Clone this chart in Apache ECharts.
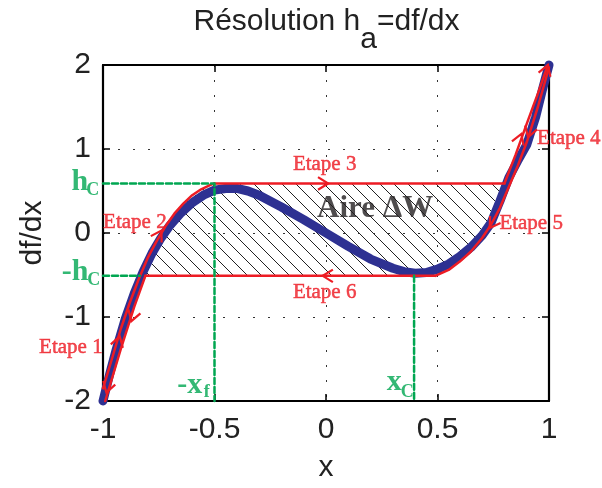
<!DOCTYPE html>
<html><head><meta charset="utf-8">
<script src="https://cdn.jsdelivr.net/npm/echarts@6/dist/echarts.min.js"></script>
<style>html,body{margin:0;padding:0;background:#fff}#c{width:602px;height:488px}</style>
</head><body><div id="c"></div>
<script>
// ---- data ----
const curveX = [-1.00,-0.97,-0.94,-0.90,-0.86,-0.82,-0.78,-0.74,-0.70,-0.65,-0.60,-0.55,-0.50,-0.45,-0.40,-0.35,-0.30,-0.20,-0.10,0.00,0.10,0.20,0.30,0.35,0.40,0.45,0.50,0.55,0.60,0.65,0.70,0.74,0.78,0.82,0.86,0.90,0.94,0.97,1.00];
const curveY = [-2.00,-1.68,-1.38,-1.02,-0.72,-0.46,-0.24,-0.06,0.09,0.24,0.36,0.45,0.51,0.53,0.53,0.50,0.45,0.31,0.16,0.00,-0.16,-0.31,-0.42,-0.46,-0.48,-0.47,-0.43,-0.37,-0.28,-0.17,-0.03,0.12,0.38,0.66,0.86,1.05,1.38,1.70,2.00];

// red hysteresis path pieces
const upLeftX = [-1.00,-0.96,-0.92,-0.88,-0.84,-0.80,-0.76,-0.72,-0.68,-0.64,-0.60,-0.56,-0.52,-0.50];
const upLeftY = [-1.85,-1.50,-1.14,-0.83,-0.55,-0.30,-0.10,0.08,0.23,0.35,0.45,0.52,0.57,0.59];
const topLineX = [-0.50,0.80];
const topLineY = [0.59,0.59];
const upRightX = [0.80,0.85,0.90,0.95,0.995];
const upRightY = [0.59,0.93,1.30,1.66,2.00];
const downRightX = [1.00,0.95,0.90,0.86,0.82,0.78,0.74,0.70,0.65,0.60,0.55,0.49];
const downRightY = [1.97,1.50,1.08,0.80,0.55,0.30,0.10,-0.06,-0.22,-0.34,-0.44,-0.51];
const bottomLineX = [0.49,-0.81];
const bottomLineY = [-0.51,-0.51];
const downLeftX = [-0.81,-0.86,-0.92,-0.99];
const downLeftY = [-0.51,-0.88,-1.38,-2.00];

// hatched area (loop interior)
const hatchX = [-0.835,-0.80,-0.76,-0.72,-0.68,-0.64,-0.60,-0.56,-0.52,-0.50,0.825,0.78,0.74,0.70,0.65,0.60,0.55,0.49];
const hatchY = [-0.51,-0.30,-0.10,0.08,0.23,0.35,0.45,0.52,0.57,0.59,0.59,0.30,0.10,-0.06,-0.22,-0.34,-0.44,-0.51];

// green construction lines
const hcLineX = [-1.00,-0.50,-0.50];
const hcLineY = [0.59,0.59,-2.00];
const mhcLineX = [-1.00,-0.835];
const mhcLineY = [-0.51,-0.51];
const xcLineX = [0.395,0.395];
const xcLineY = [-0.51,-2.00];

// arrows: position of tip and direction
const arrowX  = [-0.925,-0.873,-0.985,-0.738,0.01,0.876,0.906,0.995,0.734,-0.015];
const arrowY  = [-1.23,-1.05,-1.90,0.03,0.59,1.18,1.14,2.00,0.06,-0.51];
const arrowDX = [0.04,-0.04,-0.04,0.04,1,0.05,-0.05,0.045,-0.04,-1];
const arrowDY = [0.36,-0.33,-0.36,0.18,0,0.36,-0.42,0.34,-0.16,0];

// labels
const etapeText = ['Etape 1','Etape 2','Etape 3','Etape 4','Etape 5','Etape 6'];
const etapeX = [-1.144,-0.857,-0.006,1.089,0.920,-0.006];
const etapeY = [-1.36,0.13,0.81,1.13,0.11,-0.71];
const greenText = ['h','-h','-x','x'];
const greenX = [-1.104,-1.125,-0.611,0.306];
const greenY = [0.60,-0.47,-1.81,-1.78];
const greenSubText = ['C','C','f','C'];
const greenSubX = [-1.046,-1.042,-0.535,0.364];
const greenSubY = [0.51,-0.56,-1.895,-1.895];
const areaText = ['Aire ΔW'];
const areaX = [0.22];
const areaY = [0.28];

const xTicks = [-1,-0.5,0,0.5,1];
const yTicks = [-2,-1,0,1,2];

const RED = '#ED1C24', BLUE = '#2E3192', GREEN = '#00A651';
const zip = (a,b) => a.map((v,i)=>[v,b[i]]);

// hatch pattern
const pc = document.createElement('canvas'); pc.width = 14; pc.height = 14;
const g = pc.getContext('2d'); g.strokeStyle = '#222'; g.lineWidth = 1;
g.beginPath(); g.moveTo(-2,-2); g.lineTo(16,16); g.moveTo(-2,12); g.lineTo(2,16); g.moveTo(12,-2); g.lineTo(16,2); g.stroke();

const chart = echarts.init(document.getElementById('c'));
const axisBase = {
  type:'value', axisLine:{show:true,onZero:false,lineStyle:{color:'#000',width:2.2}},
  axisTick:{show:true,inside:true,length:7,lineStyle:{color:'#000',width:1.5}}
};
const lineSeries = (xs, ys, color, width, type) => ({
  type:'line', data: zip(xs, ys), showSymbol:false, symbol:'none', clip:false, silent:true,
  lineStyle:{color, width, type: type||'solid', cap:'round', join:'round'}, z:3
});
const labelSeries = (xs, ys, texts, style) => ({
  type:'scatter', data: xs.map((x,i)=>[x, ys[i], texts[i]]), symbolSize:0, clip:false, silent:true, z:6,
  label:{show:true, position:'inside', formatter:p=>p.data[2], align:'center', verticalAlign:'middle', ...style}
});

chart.setOption({
  animation:false,
  grid:{left:103, right:53, top:65, bottom:82},
  xAxis:[
    Object.assign({}, axisBase, {min:-1,max:1,interval:0.5,position:'bottom',
      axisLabel:{fontSize:30,color:'#222',margin:14,fontFamily:'Liberation Sans',
        formatter:v=>String(xTicks.find(t=>Math.abs(t-v)<1e-9) ?? v)},
      splitLine:{show:true,lineStyle:{type:[2,13],color:'#333',width:1}},
      name:'x', nameLocation:'middle', nameGap:52, nameTextStyle:{fontSize:30,color:'#222',fontFamily:'Liberation Sans'}}),
    Object.assign({}, axisBase, {min:-1,max:1,interval:0.5,position:'top',axisLabel:{show:false},splitLine:{show:false}})
  ],
  yAxis:[
    Object.assign({}, axisBase, {min:-2,max:2,interval:1,position:'left',
      axisLabel:{fontSize:30,color:'#222',margin:12,fontFamily:'Liberation Sans',
        formatter:v=>String(yTicks.find(t=>Math.abs(t-v)<1e-9) ?? v)},
      splitLine:{show:true,lineStyle:{type:[2,13],color:'#333',width:1}},
      name:'df/dx', nameLocation:'middle', nameGap:55, nameRotate:90,
      nameTextStyle:{fontSize:30,color:'#222',fontFamily:'Liberation Sans'}}),
    Object.assign({}, axisBase, {min:-2,max:2,interval:1,position:'right',axisLabel:{show:false},splitLine:{show:false}})
  ],
  series:[
    { type:'custom', silent:true, z:1, clip:false, data:[[0,0]],
      renderItem:(params, api) => ({
        type:'polygon',
        shape:{points: hatchX.map((x,i)=>api.coord([x, hatchY[i]]))},
        style:{fill:{image:pc, repeat:'repeat'}, stroke:null}
      })
    },
    lineSeries(curveX, curveY, BLUE, 9),
    lineSeries(upLeftX, upLeftY, RED, 2.5),
    lineSeries(topLineX, topLineY, RED, 2.5),
    lineSeries(upRightX, upRightY, RED, 2.5),
    lineSeries(downRightX, downRightY, RED, 2.5),
    lineSeries(bottomLineX, bottomLineY, RED, 2.5),
    lineSeries(downLeftX, downLeftY, RED, 2.5),
    Object.assign(lineSeries(hcLineX, hcLineY, GREEN, 2.5, [6,3]), {z:4}),
    Object.assign(lineSeries(mhcLineX, mhcLineY, GREEN, 2.5, [6,3]), {z:4}),
    Object.assign(lineSeries(xcLineX, xcLineY, GREEN, 2.5, [6,3]), {z:4}),
    { type:'custom', silent:true, z:5, clip:false,
      data: arrowX.map((x,i)=>[x, arrowY[i], arrowDX[i], arrowDY[i]]),
      renderItem:(params, api) => {
        const x = api.value(0), y = api.value(1), dx = api.value(2), dy = api.value(3);
        const p = api.coord([x,y]);
        const q = api.coord([x - dx*0.1, y - dy*0.1]);
        const a = Math.atan2(p[1]-q[1], p[0]-q[0]);
        const L = 12, h = 0.55;
        const p1 = [p[0] - L*Math.cos(a - h), p[1] - L*Math.sin(a - h)];
        const p2 = [p[0] - L*Math.cos(a + h), p[1] - L*Math.sin(a + h)];
        return {type:'polyline', shape:{points:[p1, p, p2]}, style:{stroke:RED, lineWidth:2.2, fill:null}};
      }
    },
    labelSeries(etapeX, etapeY, etapeText, {fontSize:21, color:RED, fontFamily:'Liberation Serif', textBorderColor:RED, textBorderWidth:0.5}),
    labelSeries(greenX, greenY, greenText, {fontSize:30, color:GREEN, fontFamily:'Liberation Serif', fontWeight:'bold'}),
    labelSeries(greenSubX, greenSubY, greenSubText, {fontSize:18, color:GREEN, fontFamily:'Liberation Serif', fontWeight:'bold'}),
    labelSeries(areaX, areaY, areaText, {fontSize:31, color:'#231F20', fontFamily:'Liberation Serif', fontWeight:'bold'})
  ]
});

// title with subscript
const mc = document.createElement('canvas').getContext('2d');
mc.font = '30px "Liberation Sans"';
const t1 = 'Résolution h', t2 = 'a', t3 = '=df/dx';
const w1 = mc.measureText(t1).width, w2 = mc.measureText(t2).width, w3 = mc.measureText(t3).width;
const x0 = 326.5 - (w1+w2+w3)/2;
const ts = {fontSize:30, fontFamily:'Liberation Sans', fill:'#222'};
chart.setOption({graphic:[
  {type:'text', left:x0, top:7, style:Object.assign({text:t1}, ts)},
  {type:'text', left:x0+w1, top:25, style:Object.assign({text:t2}, ts)},
  {type:'text', left:x0+w1+w2, top:7, style:Object.assign({text:t3}, ts)}
]});
</script></body></html>
